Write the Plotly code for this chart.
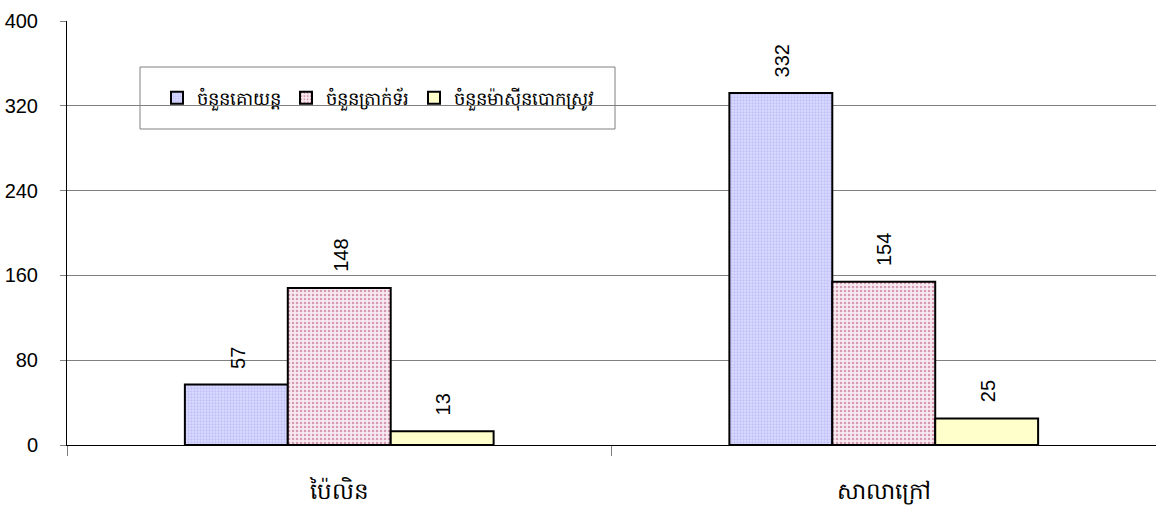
import plotly.graph_objects as go

categories = ["ប៉ៃលិន", "សាលាក្រៅ"]
series_names = ["ចំនួនគោយន្ត", "ចំនួនត្រាក់ទ័រ", "ចំនួនម៉ាស៊ីនបោកស្រូវ"]
values_engines = [57, 332]
values_tractors = [148, 154]
values_threshers = [13, 25]
y_ticks = [0, 80, 160, 240, 320, 400]

series_values = [values_engines, values_tractors, values_threshers]
styles = [
    dict(color="#d4d4ff", pattern=dict(shape=".", fgcolor="#a4a4f4", bgcolor="#dcdcff", size=3, solidity=0.45)),
    dict(color="#f2dbe4", pattern=dict(shape=".", fgcolor="#b04a78", bgcolor="#f8eaef", size=4, solidity=0.3)),
    dict(color="#ffffcc"),
]

W, H = 1156, 520
ML, MR, MT, MB = 67, 0, 21, 75
BARGAP = 0.433
FONT = "Liberation Sans, Arial, sans-serif"
KFONT = "Noto Sans, Liberation Sans, sans-serif"

fig = go.Figure()
for name, vals, st in zip(series_names, series_values, styles):
    marker = dict(color=st["color"], line=dict(color="#000000", width=2))
    if "pattern" in st:
        marker["pattern"] = st["pattern"]
    fig.add_trace(go.Bar(name=name, x=categories, y=vals, marker=marker))

plot_w = W - ML - MR
plot_h = H - MT - MB
cat_w = plot_w / len(categories)
bar_w = cat_w * (1 - BARGAP) / len(series_names)
annotations = []
for i, vals in enumerate(series_values):
    for c, v in zip(categories, vals):
        annotations.append(dict(
            x=c, y=v, xref="x", yref="y", text=str(v), showarrow=False,
            textangle=-90, yanchor="bottom", xanchor="center",
            xshift=(i - (len(series_names) - 1) / 2) * bar_w + 1, yshift=14,
            font=dict(family=FONT, size=20, color="#000000"),
        ))

fig.update_layout(
    width=W, height=H,
    margin=dict(l=ML, r=MR, t=MT, b=MB, autoexpand=False),
    paper_bgcolor="#ffffff", plot_bgcolor="#ffffff",
    barmode="group", bargap=BARGAP, bargroupgap=0,
    font=dict(family=FONT, size=20, color="#000000"),
    annotations=annotations,
    showlegend=True,
    legend=dict(
        orientation="h", x=(157 - ML) / plot_w, y=(H - MB - 98) / plot_h,
        xanchor="left", yanchor="middle",
        bgcolor="rgba(0,0,0,0)", font=dict(size=18, family=KFONT),
        itemsizing="constant",
    ),
    shapes=[dict(type="rect", xref="paper", yref="paper",
                 x0=(140 - ML) / plot_w, x1=(615 - ML) / plot_w,
                 y0=(H - MB - 129) / plot_h, y1=(H - MB - 67) / plot_h,
                 line=dict(color="#808080", width=1), fillcolor="#ffffff", layer="below")],
)
fig.update_xaxes(
    showline=True, linecolor="#000000", linewidth=1,
    ticks="outside", tickson="boundaries", ticklen=10, tickcolor="#808080",
    ticklabelstandoff=25, showgrid=False, automargin=False,
    tickfont=dict(size=23, family=KFONT),
)
fig.update_yaxes(
    range=[0, 400], tickvals=y_ticks, showgrid=True, gridcolor="#808080", gridwidth=1,
    showline=True, linecolor="#000000", linewidth=1, automargin=False,
    ticks="outside", ticklen=6, tickcolor="#808080", ticklabelstandoff=18,
    zeroline=False,
)
fig.write_html("out.html", config={"displayModeBar": False},
               post_script="document.body.style.margin='0';document.body.style.padding='0';")
